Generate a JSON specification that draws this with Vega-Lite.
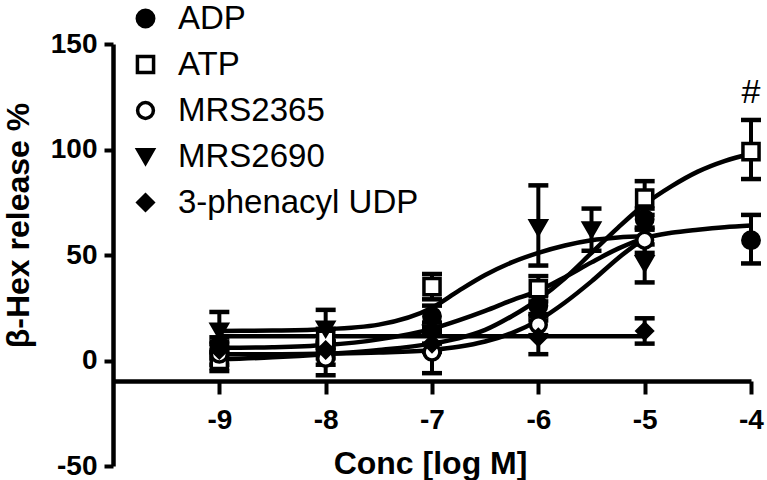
{
  "$schema": "https://vega.github.io/schema/vega-lite/v6.json",
  "autosize": "none",
  "width": 638,
  "height": 422,
  "padding": {"left": 113, "top": 44, "right": 16, "bottom": 14},
  "background": "white",
  "config": {
    "view": {"stroke": null},
    "font": "Liberation Sans",
    "legend": {"title": null, "orient": "none", "legendX": 16, "legendY": -42, "padding": 0,
      "labelFont": "Liberation Sans", "labelFontSize": 33, "labelColor": "black", "labelOffset": 16,
      "rowPadding": 12, "symbolStrokeWidth": 3.5, "symbolStrokeColor": "black", "labelLimit": 400}
  },
  "datasets": {
    "pts": [
      {"series": "ADP", "x": -9, "y": 7, "lo": 3, "hi": 11},
      {"series": "ADP", "x": -8, "y": 3, "lo": -2, "hi": 8},
      {"series": "ADP", "x": -7, "y": 21, "lo": 16, "hi": 26},
      {"series": "ADP", "x": -6, "y": 26, "lo": 21, "hi": 31},
      {"series": "ADP", "x": -5, "y": 67, "lo": 62, "hi": 72},
      {"series": "ADP", "x": -4, "y": 57, "lo": 46, "hi": 69},
      {"series": "ATP", "x": -9, "y": 0, "lo": -5, "hi": 4},
      {"series": "ATP", "x": -8, "y": 10, "lo": 5, "hi": 15},
      {"series": "ATP", "x": -7, "y": 35, "lo": 29, "hi": 41},
      {"series": "ATP", "x": -6, "y": 34, "lo": 28, "hi": 40},
      {"series": "ATP", "x": -5, "y": 77, "lo": 69, "hi": 85},
      {"series": "ATP", "x": -4, "y": 99, "lo": 86, "hi": 114},
      {"series": "MRS2365", "x": -9, "y": 3, "lo": -2, "hi": 8},
      {"series": "MRS2365", "x": -8, "y": 1, "lo": -7, "hi": 9},
      {"series": "MRS2365", "x": -7, "y": 4, "lo": -6, "hi": 14},
      {"series": "MRS2365", "x": -6, "y": 17, "lo": 12, "hi": 22},
      {"series": "MRS2365", "x": -5, "y": 57, "lo": 51, "hi": 63},
      {"series": "MRS2690", "x": -9, "y": 14, "lo": 5, "hi": 23},
      {"series": "MRS2690", "x": -8, "y": 15, "lo": 6, "hi": 24},
      {"series": "MRS2690", "x": -7, "y": 13, "lo": 8, "hi": 18},
      {"series": "MRS2690", "x": -6, "y": 63, "lo": 45, "hi": 83},
      {"series": "MRS2690", "x": -5.5, "y": 62, "lo": 52, "hi": 72},
      {"series": "MRS2690", "x": -5, "y": 46, "lo": 37, "hi": 55},
      {"series": "3-phenacyl UDP", "x": -9, "y": 5, "lo": 1, "hi": 9},
      {"series": "3-phenacyl UDP", "x": -8, "y": 5, "lo": 1, "hi": 9},
      {"series": "3-phenacyl UDP", "x": -7, "y": 8, "lo": 4, "hi": 12},
      {"series": "3-phenacyl UDP", "x": -6, "y": 11, "lo": 3, "hi": 19},
      {"series": "3-phenacyl UDP", "x": -5, "y": 14, "lo": 8, "hi": 20}
    ],
    "curves": [
      {"series": "ADP", "x": -9, "y": 6}, {"series": "ADP", "x": -8.5, "y": 6.3}, {"series": "ADP", "x": -8, "y": 7.3},
      {"series": "ADP", "x": -7.5, "y": 10}, {"series": "ADP", "x": -7, "y": 15}, {"series": "ADP", "x": -6.75, "y": 19},
      {"series": "ADP", "x": -6.5, "y": 23.5}, {"series": "ADP", "x": -6.25, "y": 28.5}, {"series": "ADP", "x": -6, "y": 33},
      {"series": "ADP", "x": -5.75, "y": 39.5}, {"series": "ADP", "x": -5.5, "y": 46.5}, {"series": "ADP", "x": -5.25, "y": 53},
      {"series": "ADP", "x": -5, "y": 58}, {"series": "ADP", "x": -4.75, "y": 60.5}, {"series": "ADP", "x": -4.5, "y": 62},
      {"series": "ADP", "x": -4.25, "y": 63.2}, {"series": "ADP", "x": -4, "y": 64},
      {"series": "ATP", "x": -9, "y": 0.5}, {"series": "ATP", "x": -8.5, "y": 1.5}, {"series": "ATP", "x": -8, "y": 3},
      {"series": "ATP", "x": -7.5, "y": 5}, {"series": "ATP", "x": -7, "y": 8}, {"series": "ATP", "x": -6.75, "y": 10.5},
      {"series": "ATP", "x": -6.5, "y": 14.5}, {"series": "ATP", "x": -6.25, "y": 21}, {"series": "ATP", "x": -6, "y": 29},
      {"series": "ATP", "x": -5.75, "y": 39}, {"series": "ATP", "x": -5.5, "y": 51}, {"series": "ATP", "x": -5.25, "y": 63},
      {"series": "ATP", "x": -5, "y": 74}, {"series": "ATP", "x": -4.75, "y": 82.5}, {"series": "ATP", "x": -4.5, "y": 89.5},
      {"series": "ATP", "x": -4.25, "y": 94.5}, {"series": "ATP", "x": -4, "y": 98},
      {"series": "MRS2365", "x": -9, "y": 3}, {"series": "MRS2365", "x": -8.5, "y": 3}, {"series": "MRS2365", "x": -8, "y": 3.3},
      {"series": "MRS2365", "x": -7.5, "y": 3.8}, {"series": "MRS2365", "x": -7, "y": 5}, {"series": "MRS2365", "x": -6.75, "y": 6.5},
      {"series": "MRS2365", "x": -6.5, "y": 9}, {"series": "MRS2365", "x": -6.25, "y": 13}, {"series": "MRS2365", "x": -6, "y": 19},
      {"series": "MRS2365", "x": -5.75, "y": 27.5}, {"series": "MRS2365", "x": -5.5, "y": 37.5}, {"series": "MRS2365", "x": -5.25, "y": 48.5},
      {"series": "MRS2365", "x": -5, "y": 58},
      {"series": "MRS2690", "x": -9, "y": 14}, {"series": "MRS2690", "x": -8.5, "y": 14.2}, {"series": "MRS2690", "x": -8, "y": 14.8},
      {"series": "MRS2690", "x": -7.5, "y": 17}, {"series": "MRS2690", "x": -7, "y": 25}, {"series": "MRS2690", "x": -6.75, "y": 33},
      {"series": "MRS2690", "x": -6.5, "y": 40.5}, {"series": "MRS2690", "x": -6.25, "y": 46.5}, {"series": "MRS2690", "x": -6, "y": 51},
      {"series": "MRS2690", "x": -5.75, "y": 54.5}, {"series": "MRS2690", "x": -5.5, "y": 57}, {"series": "MRS2690", "x": -5.25, "y": 58.3},
      {"series": "MRS2690", "x": -5, "y": 59},
      {"series": "3-phenacyl UDP", "x": -9, "y": 11.5}, {"series": "3-phenacyl UDP", "x": -5, "y": 11.5}
    ],
    "ann": [{"x": -4, "y": 127, "label": "#"}]
  },
  "layer": [
    {
      "data": {"name": "curves"},
      "mark": {"type": "line", "interpolate": "monotone", "color": "black", "strokeWidth": 4.5},
      "encoding": {
        "x": {"field": "x", "type": "quantitative", "scale": {"domain": [-10, -4], "nice": false, "zero": false},
          "axis": {"values": [-9, -8, -7, -6, -5, -4], "labelExpr": "'' + datum.value", "offset": -85, "grid": false, "domainWidth": 4.5, "domainColor": "black",
            "tickWidth": 4, "tickColor": "black", "tickSize": 13, "labelPadding": 12, "labelFont": "Liberation Sans", "labelFontWeight": "bold",
            "labelFontSize": 28, "labelColor": "black", "labelFlush": false, "labelOverlap": false,
            "title": "Conc [log M]", "titleFont": "Liberation Sans", "titleFontSize": 32, "titleFontWeight": "bold", "titleColor": "black",
            "titleX": 317, "titleY": 82, "titleBaseline": "middle", "titleAlign": "center"}},
        "y": {"field": "y", "type": "quantitative", "scale": {"domain": [-50, 150], "nice": false, "zero": false},
          "axis": {"values": [-50, 0, 50, 100, 150], "labelExpr": "'' + datum.value", "grid": false, "domainWidth": 4.5, "domainColor": "black",
            "tickWidth": 4, "tickColor": "black", "tickSize": 9, "labelPadding": 7, "labelFont": "Liberation Sans", "labelFontWeight": "bold",
            "labelFontSize": 28, "labelColor": "black", "labelFlush": false, "labelOverlap": false,
            "title": "β-Hex release %", "titleFont": "Liberation Sans", "titleFontSize": 32, "titleFontWeight": "bold", "titleColor": "black",
            "titleX": -95, "titleY": 181, "titleBaseline": "middle", "titleAlign": "center", "titleAngle": -90}},
        "detail": {"field": "series"}
      }
    },
    {
      "data": {"name": "pts"},
      "mark": {"type": "rule", "color": "black", "strokeWidth": 4, "opacity": 1},
      "encoding": {
        "x": {"field": "x", "type": "quantitative"},
        "y": {"field": "lo", "type": "quantitative"},
        "y2": {"field": "hi"}
      }
    },
    {
      "data": {"name": "pts"},
      "mark": {"type": "tick", "orient": "horizontal", "color": "black", "opacity": 1, "size": 20, "thickness": 4.5},
      "encoding": {
        "x": {"field": "x", "type": "quantitative"},
        "y": {"field": "lo", "type": "quantitative"}
      }
    },
    {
      "data": {"name": "pts"},
      "mark": {"type": "tick", "orient": "horizontal", "color": "black", "opacity": 1, "size": 20, "thickness": 4.5},
      "encoding": {
        "x": {"field": "x", "type": "quantitative"},
        "y": {"field": "hi", "type": "quantitative"}
      }
    },
    {
      "data": {"name": "pts"},
      "mark": {"type": "point", "strokeWidth": 3.5, "opacity": 1},
      "encoding": {
        "x": {"field": "x", "type": "quantitative"},
        "y": {"field": "y", "type": "quantitative"},
        "size": {"field": "series", "type": "nominal",
          "scale": {"domain": ["ADP", "ATP", "MRS2365", "MRS2690", "3-phenacyl UDP"], "range": [270, 230, 230, 420, 420]}},
        "shape": {"field": "series", "type": "nominal",
          "scale": {"domain": ["ADP", "ATP", "MRS2365", "MRS2690", "3-phenacyl UDP"],
            "range": ["circle", "square", "circle", "triangle-down", "diamond"]}},
        "fill": {"field": "series", "type": "nominal",
          "scale": {"domain": ["ADP", "ATP", "MRS2365", "MRS2690", "3-phenacyl UDP"],
            "range": ["black", "white", "white", "black", "black"]}},
        "stroke": {"field": "series", "type": "nominal",
          "scale": {"domain": ["ADP", "ATP", "MRS2365", "MRS2690", "3-phenacyl UDP"],
            "range": ["black", "black", "black", "black", "black"]}}
      }
    },
    {
      "data": {"name": "ann"},
      "mark": {"type": "text", "font": "Liberation Sans", "fontSize": 34, "color": "black", "baseline": "middle", "align": "center"},
      "encoding": {
        "x": {"field": "x", "type": "quantitative"},
        "y": {"field": "y", "type": "quantitative"},
        "text": {"field": "label"}
      }
    }
  ]
}
